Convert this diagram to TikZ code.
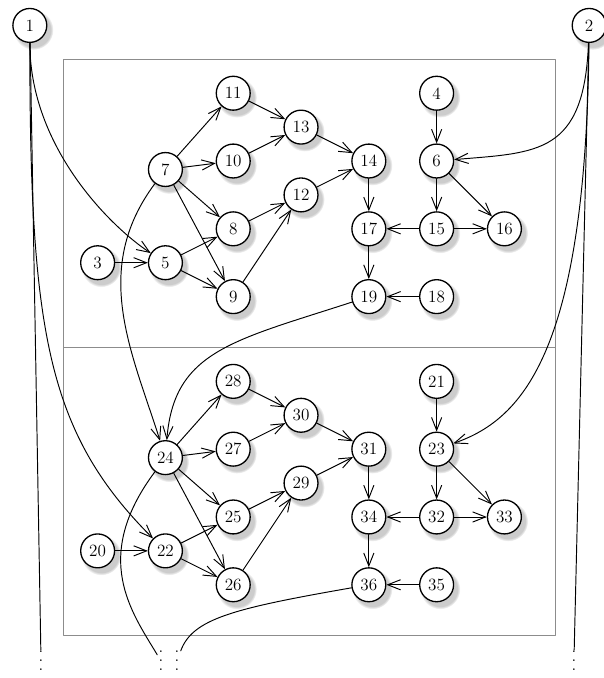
\documentclass[tikz,border=0pt]{standalone}
\usepackage{amsmath,amssymb}
\usepackage{tikz}
\usetikzlibrary{arrows.meta,shadows}

\newcommand{\moredots}{\vbox{\baselineskip=7.5pt\lineskiplimit=-20pt\hbox{.}\hbox{.}\hbox{.}}}

\begin{document}
\begin{tikzpicture}[line cap=round, line join=round, >={Straight Barb[length=3.8mm,width=3mm]},
    vertex/.style={circle, draw, line width=1.1pt, fill=white, minimum size=1cm, inner sep=0pt, font=\Large,
        circular drop shadow={shadow xshift=0.9mm, shadow yshift=-1.1mm, shadow scale=1.18, opacity=0.4}},
    flow/.style={->, thick},
    plain/.style={thick},
    more/.style={inner sep=1pt, font=\Large}]
    \useasboundingbox (-0.88,2.75) rectangle (16.91,-17.25);

    \draw[black!45] (1,1) rectangle (15.5,-16);
    \draw[black!45] (1,-7.5) -- (15.5,-7.5);

    \node[vertex] (n1) at (0,2) {1};
    \node[vertex] (n2) at (16.5,2) {2};

    \node[vertex] (n3) at (2,-5) {3};
    \node[vertex] (n4) at (12,0) {4};
    \node[vertex] (n5) at (4,-5) {5};
    \node[vertex] (n6) at (12,-2) {6};
    \node[vertex] (n7) at (4,-2.25) {7};
    \node[vertex] (n8) at (6,-4) {8};
    \node[vertex] (n9) at (6,-6) {9};
    \node[vertex] (n10) at (6,-2) {10};
    \node[vertex] (n11) at (6,0) {11};
    \node[vertex] (n12) at (8,-3) {12};
    \node[vertex] (n13) at (8,-1) {13};
    \node[vertex] (n14) at (10,-2) {14};
    \node[vertex] (n15) at (12,-4) {15};
    \node[vertex] (n16) at (14,-4) {16};
    \node[vertex] (n17) at (10,-4) {17};
    \node[vertex] (n18) at (12,-6) {18};
    \node[vertex] (n19) at (10,-6) {19};

    \node[vertex] (n20) at (2,-13.5) {20};
    \node[vertex] (n21) at (12,-8.5) {21};
    \node[vertex] (n22) at (4,-13.5) {22};
    \node[vertex] (n23) at (12,-10.5) {23};
    \node[vertex] (n24) at (4,-10.75) {24};
    \node[vertex] (n25) at (6,-12.5) {25};
    \node[vertex] (n26) at (6,-14.5) {26};
    \node[vertex] (n27) at (6,-10.5) {27};
    \node[vertex] (n28) at (6,-8.5) {28};
    \node[vertex] (n29) at (8,-11.5) {29};
    \node[vertex] (n30) at (8,-9.5) {30};
    \node[vertex] (n31) at (10,-10.5) {31};
    \node[vertex] (n32) at (12,-12.5) {32};
    \node[vertex] (n33) at (14,-12.5) {33};
    \node[vertex] (n34) at (10,-12.5) {34};
    \node[vertex] (n35) at (12,-14.5) {35};
    \node[vertex] (n36) at (10,-14.5) {36};

    \node[more] (d1) at (0.33,-16.75) {\moredots};
    \node[more] (d24) at (3.87,-16.75) {\moredots};
    \node[more] (d36) at (4.34,-16.75) {\moredots};
    \node[more] (d2) at (16.05,-16.75) {\moredots};

    \draw[flow] (n3) -- (n5);
    \draw[flow] (n5) -- (n8);
    \draw[flow] (n5) -- (n9);
    \draw[flow] (n7) -- (n11);
    \draw[flow] (n7) -- (n10);
    \draw[flow] (n7) -- (n8);
    \draw[flow] (n7) -- (n9);
    \draw[flow] (n8) -- (n12);
    \draw[flow] (n9) -- (n12);
    \draw[flow] (n11) -- (n13);
    \draw[flow] (n10) -- (n13);
    \draw[flow] (n13) -- (n14);
    \draw[flow] (n12) -- (n14);
    \draw[flow] (n14) -- (n17);
    \draw[flow] (n17) -- (n19);
    \draw[flow] (n4) -- (n6);
    \draw[flow] (n6) -- (n15);
    \draw[flow] (n6) -- (n16);
    \draw[flow] (n15) -- (n17);
    \draw[flow] (n15) -- (n16);
    \draw[flow] (n18) -- (n19);

    \draw[flow] (n20) -- (n22);
    \draw[flow] (n22) -- (n25);
    \draw[flow] (n22) -- (n26);
    \draw[flow] (n24) -- (n28);
    \draw[flow] (n24) -- (n27);
    \draw[flow] (n24) -- (n25);
    \draw[flow] (n24) -- (n26);
    \draw[flow] (n25) -- (n29);
    \draw[flow] (n26) -- (n29);
    \draw[flow] (n28) -- (n30);
    \draw[flow] (n27) -- (n30);
    \draw[flow] (n30) -- (n31);
    \draw[flow] (n29) -- (n31);
    \draw[flow] (n31) -- (n34);
    \draw[flow] (n34) -- (n36);
    \draw[flow] (n21) -- (n23);
    \draw[flow] (n23) -- (n32);
    \draw[flow] (n23) -- (n33);
    \draw[flow] (n32) -- (n34);
    \draw[flow] (n32) -- (n33);
    \draw[flow] (n35) -- (n36);

    \draw[flow] (n1) .. controls +(0,-3.6) and +(-1.6,1.05) .. (n5);
    \draw[flow] (n1) .. controls +(0,-9) and +(-3.5,3.5) .. (n22);
    \draw[plain] (n1) -- (d1);
    \draw[flow] (n2) .. controls +(-0.15,-3.8) and +(3,0.25) .. (n6);
    \draw[flow] (n2) .. controls +(-0.1,-9.5) and +(2.6,0.9) .. (n23);
    \draw[plain] (n2) -- (d2);
    \draw[flow] (n7) .. controls (1.8,-5.2) and (3.0,-7.6) .. (n24);
    \draw[flow] (n19) .. controls (6,-7.3) and (4.25,-7.6) .. (n24);
    \draw[plain] (n24) .. controls (1.8,-13.7) and (3.0,-15.3) .. (d24);
    \draw[plain] (n36) .. controls (6,-15.2) and (4.8,-15.5) .. (d36);
\end{tikzpicture}
\end{document}
